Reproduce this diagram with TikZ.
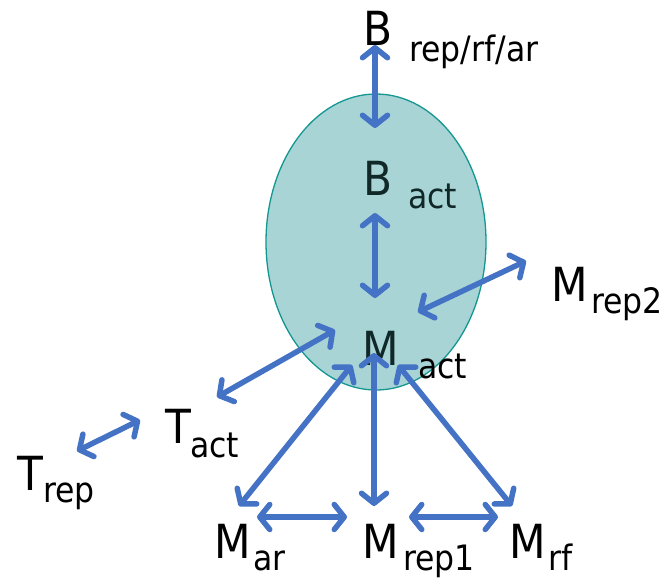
\documentclass[tikz,border=0pt]{standalone}
\usepackage{fontspec}
\setmainfont{DejaVu Sans Condensed}
\usetikzlibrary{arrows.meta}
\definecolor{cellfill}{RGB}{168,212,214}
\definecolor{celledge}{RGB}{20,150,145}
\definecolor{arrowblue}{RGB}{68,114,196}
\definecolor{intext}{RGB}{16,40,40}
\tikzset{
  bigtxt/.style={anchor=base west, inner sep=0pt, font=\fontsize{47}{50}\selectfont},
  subtxt/.style={anchor=base west, inner sep=0pt, font=\fontsize{35}{40}\selectfont},
  link/.style={draw=arrowblue, line width=5.5pt, line cap=round,
    {Straight Barb[length=10pt,width=25pt,line cap=round,line join=round]}-{Straight Barb[length=10pt,width=25pt,line cap=round,line join=round]}},
}
\begin{document}
\begin{tikzpicture}[x=1pt,y=-1pt]
\useasboundingbox (0,0) rectangle (663,582);
% cell
\draw[fill=cellfill, draw=celledge, line width=1.3pt] (376,242) ellipse [x radius=110, y radius=148];
% labels
\node[bigtxt] (B) at (363,45) {B};
\node[subtxt] (Bs) at (409,61) {rep/rf/ar};
\node[bigtxt, text=intext] (Bact) at (363,195) {B};
\node[subtxt, text=intext] (Bacts) at (408,208) {act};
\node[bigtxt, text=intext] (Mact) at (362,365) {M};
\node[subtxt] (Macts) at (418,378) {act};
\node[bigtxt] (Mrep2) at (551,301) {M};
\node[subtxt] (Mrep2s) at (591,313) {rep2};
\node[bigtxt] (Tact) at (165,443) {T};
\node[subtxt] (Tacts) at (190,457) {act};
\node[bigtxt] (Trep) at (17,490) {T};
\node[subtxt] (Treps) at (43,502) {rep};
\node[bigtxt] (Mar) at (214,558) {M};
\node[subtxt] (Mars) at (253,570) {ar};
\node[bigtxt] (Mrep1) at (362,558) {M};
\node[subtxt] (Mrep1s) at (403,570) {rep1};
\node[bigtxt] (Mrf) at (509,558) {M};
\node[subtxt] (Mrfs) at (548,570) {rf};
% arrow end points
\coordinate (b1) at (375,45);   \coordinate (b2) at (375,128);
\coordinate (ba1) at (375,213); \coordinate (ba2) at (375,298);
\coordinate (r1) at (526,261);  \coordinate (r2) at (418,312);
\coordinate (t1) at (335,330);  \coordinate (t2) at (217,397);
\coordinate (tr1) at (140,420); \coordinate (tr2) at (77,451);
\coordinate (a1) at (352,365);  \coordinate (a2) at (239,506);
\coordinate (p1) at (374,353);  \coordinate (p2) at (374,506);
\coordinate (f1) at (398,365);  \coordinate (f2) at (512,506);
\coordinate (h1) at (257,517);  \coordinate (h2) at (347,517);
\coordinate (h3) at (409,517);  \coordinate (h4) at (498,517);
% arrows
\draw[link] (b1) -- (b2);
\draw[link] (ba1) -- (ba2);
\draw[link] (r1) -- (r2);
\draw[link] (t1) -- (t2);
\draw[link] (tr1) -- (tr2);
\draw[link] (a1) -- (a2);
\draw[link] (p1) -- (p2);
\draw[link] (f1) -- (f2);
\draw[link] (h1) -- (h2);
\draw[link] (h3) -- (h4);
\end{tikzpicture}
\end{document}
